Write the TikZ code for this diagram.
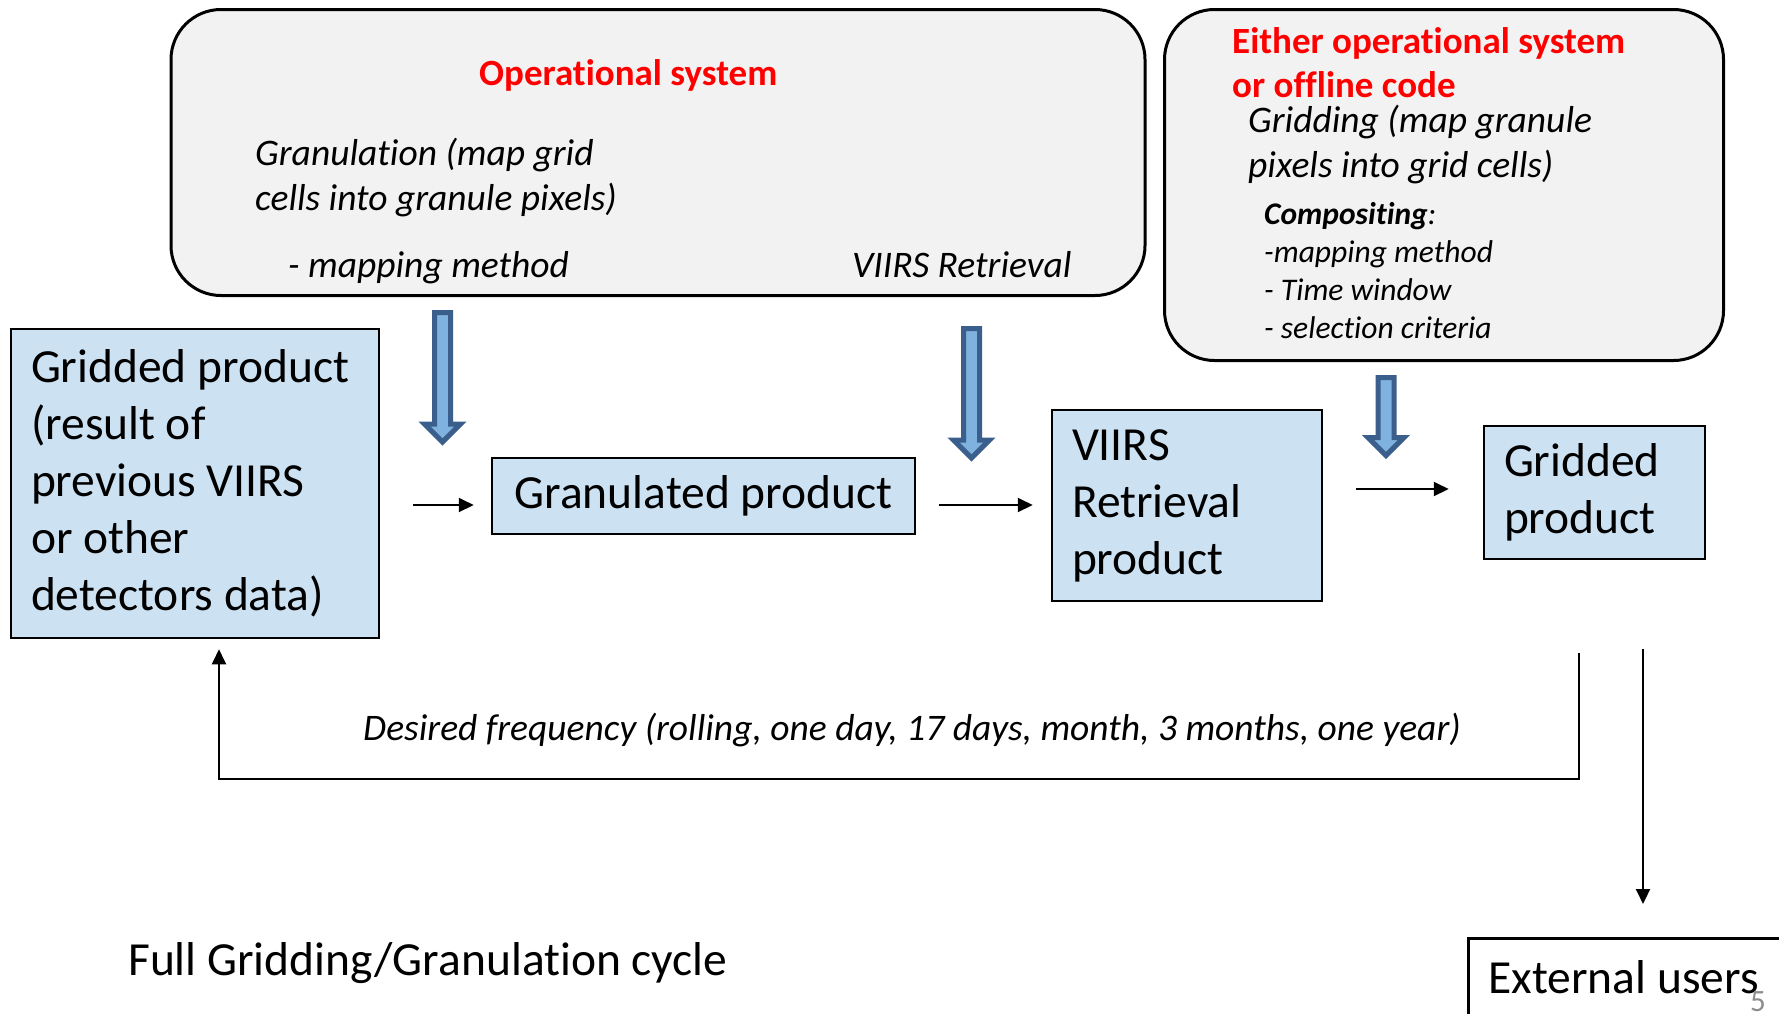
\documentclass[tikz,border=0pt]{standalone}
\usepackage{fontspec}
\setmainfont{Carlito}[Ligatures=NoCommon]
\usetikzlibrary{arrows.meta,calc}
\definecolor{boxblue}{HTML}{CCE1F2}
\definecolor{panelgray}{HTML}{F2F2F2}
\definecolor{arrowedge}{HTML}{3A5F8C}
\definecolor{arrowfill}{HTML}{7FB2DE}
\definecolor{titlered}{HTML}{FF0000}
\definecolor{numgray}{HTML}{8C8C8C}
\begin{document}
\begin{tikzpicture}[x=1pt,y=-1pt,
  panel/.style={draw=black,line width=3pt,fill=panelgray,rounded corners=50pt},
  product/.style={draw=black,line width=2.5pt,fill=boxblue,align=flush left,inner xsep=20pt,inner ysep=0pt,font=\fontsize{47.5}{57}\selectfont},
  redtitle/.style={anchor=base west,inner sep=0pt,align=left,text=titlered,font=\fontsize{37}{44}\selectfont\bfseries},
  note/.style={anchor=base west,inner sep=0pt,align=left,font=\fontsize{37.5}{44.5}\selectfont\itshape},
  smallnote/.style={anchor=base west,inner sep=0pt,align=left,font=\fontsize{31.5}{37.7}\selectfont\itshape},
  plain/.style={anchor=base west,inner sep=0pt,font=\fontsize{47.5}{57}\selectfont},
  flow/.style={line width=2pt,-{Triangle[length=15pt,width=14pt]}},
  bigarrow/.style={draw=arrowedge,fill=arrowfill,line width=5pt,line join=miter}]
\useasboundingbox (0,0) rectangle (1779,1013);
\node[panel,minimum width=974pt,minimum height=286pt] (opsys) at (658,152.5) {};
\node[panel,minimum width=559pt,minimum height=351pt] (eithersys) at (1444,185) {};
\node[redtitle] (opstitle) at (479,85) {Operational system};
\node[note] (granulation) at (255,210) {Granulation (map grid\\cells into granule pixels)};
\node[note] (granmethod) at (288,277) {- mapping method};
\node[note] (retrieval) at (852,277) {VIIRS Retrieval};
\node[redtitle] (eithertitle) at (1232,97) {Either operational system\\or offline code};
\node[note] (gridding) at (1248,177) {Gridding (map granule\\pixels into grid cells)};
\node[smallnote] (compositing) at (1264,338) {\textbf{Compositing}:\\-mapping method\\- Time window\\- selection criteria};
\node[product,minimum width=368pt,minimum height=309pt,text width=328pt] (gridold) at (195,483.5) {Gridded product\\(result of\\previous VIIRS\\or other\\detectors data)};
\node[product,minimum width=423pt,minimum height=76pt] (granul) at (703.5,496) {Granulated product};
\node[product,minimum width=270pt,minimum height=191pt,text width=230pt] (retrieved) at (1187,505.5) {VIIRS\\Retrieval\\product};
\node[product,minimum width=221pt,minimum height=133pt,text width=181pt] (gridnew) at (1594.5,492.5) {Gridded\\product};
\node[product,fill=white,anchor=north west,minimum width=340pt,minimum height=78pt,text width=300pt] (extusers) at (1467,937) {External users};
\draw[bigarrow] (434.5,312.5) -- (450.5,312.5) -- (450.5,424) -- (460.5,424) -- (442.5,442) -- (424.5,424) -- (434.5,424) -- cycle;
\draw[bigarrow] (963.5,328.5) -- (979.5,328.5) -- (979.5,440) -- (989.5,440) -- (971.5,458) -- (953.5,440) -- (963.5,440) -- cycle;
\draw[bigarrow] (1378,377.5) -- (1394,377.5) -- (1394,437.5) -- (1404,437.5) -- (1386,455.5) -- (1368,437.5) -- (1378,437.5) -- cycle;
\draw[flow] ($(gridold.east)+(33,21.5)$) -- ($(granul.west)+(-17,9)$);
\draw[flow] ($(granul.east)+(23,9)$) -- ($(retrieved.west)+(-18,-0.5)$);
\draw[flow] ($(retrieved.east)+(33,-16.5)$) -- ($(gridnew.west)+(-34,-3.5)$);
\coordinate (loopstart) at (1579,653);
\draw[flow] (loopstart) |- ($(gridold.south)+(24,140)$) -- ($(gridold.south)+(24,10)$);
\node[note,anchor=base] (freqlabel) at (912,740) {Desired frequency (rolling, one day, 17 days, month, 3 months, one year)};
\coordinate (extstart) at (1643,649);
\draw[flow] (extstart) -- ($(extusers.north west)+(176,-33)$);
\node[plain] (cyclelabel) at (128,975) {Full Gridding/Granulation cycle};
\node[anchor=base west,inner sep=0pt,text=numgray,font=\fontsize{31}{31}\selectfont] (slidenum) at (1750,1011) {5};
\end{tikzpicture}
\end{document}
